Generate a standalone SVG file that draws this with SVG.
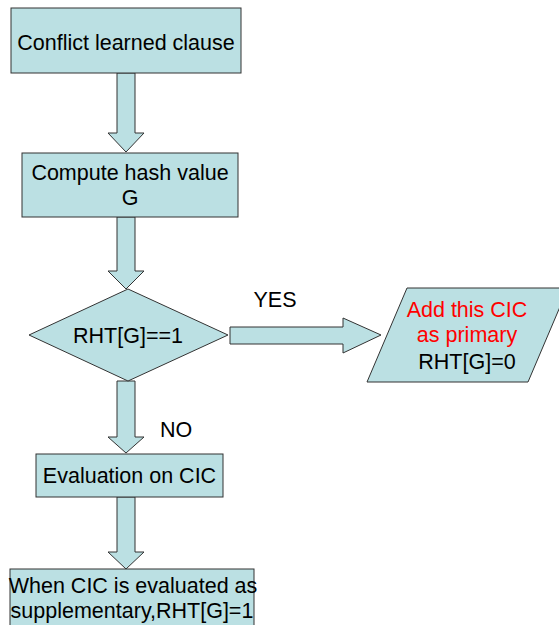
<svg xmlns="http://www.w3.org/2000/svg" width="559" height="625" viewBox="0 0 559 625">
  <style>
    .shape { fill: #bbe0e3; stroke: #333333; stroke-width: 1; }
    .lbl { font-family: "Liberation Sans", Arial, sans-serif; font-size: 21.5px; fill: #000000; text-anchor: middle; }
    .red { fill: #ff0000; }
  </style>
  <rect width="559" height="625" fill="#ffffff"/>

  <!-- block arrows between steps -->
  <g id="connectors">
    <polygon class="shape" points="117,73 135,73 135,133 144,133 126,152 108,133 117,133"/>
    <polygon class="shape" points="117,217 135,217 135,271 144,271 126,289 108,271 117,271"/>
    <polygon class="shape" points="230,327 343,327 343,318 381,335 343,353 343,344 230,344"/>
    <polygon class="shape" points="117,381 135,381 135,437 144,437 126,453 108,437 117,437"/>
    <polygon class="shape" points="117,497 135,497 135,552 144,552 126,569 108,552 117,552"/>
    <text class="lbl" x="275" y="307">YES</text>
    <text class="lbl" x="176" y="437">NO</text>
  </g>

  <g id="learned-clause">
    <rect class="shape" x="11" y="8" width="230" height="65"/>
    <text class="lbl" x="126" y="50">Conflict learned clause</text>
  </g>

  <g id="hash-value">
    <rect class="shape" x="22" y="153" width="216" height="64"/>
    <text class="lbl" x="130" y="180">Compute hash value</text>
    <text class="lbl" x="130" y="205">G</text>
  </g>

  <g id="rht-check">
    <polygon class="shape" points="128,289 228,335 128,381 29,335"/>
    <text class="lbl" x="128" y="343">RHT[G]==1</text>
  </g>

  <g id="add-primary">
    <polygon class="shape" points="407,288 568,288 528,382 367,382"/>
    <text class="lbl red" x="467" y="317">Add this CIC</text>
    <text class="lbl red" x="467" y="342">as primary</text>
    <text class="lbl" x="467" y="369">RHT[G]=0</text>
  </g>

  <g id="evaluation">
    <rect class="shape" x="36" y="454" width="187" height="43"/>
    <text class="lbl" x="129.5" y="483">Evaluation on CIC</text>
  </g>

  <g id="supplementary">
    <rect class="shape" x="10" y="569" width="244" height="70"/>
    <text class="lbl" x="133" y="593">When CIC is evaluated as</text>
    <text class="lbl" x="132" y="618">supplementary,RHT[G]=1</text>
  </g>
</svg>
